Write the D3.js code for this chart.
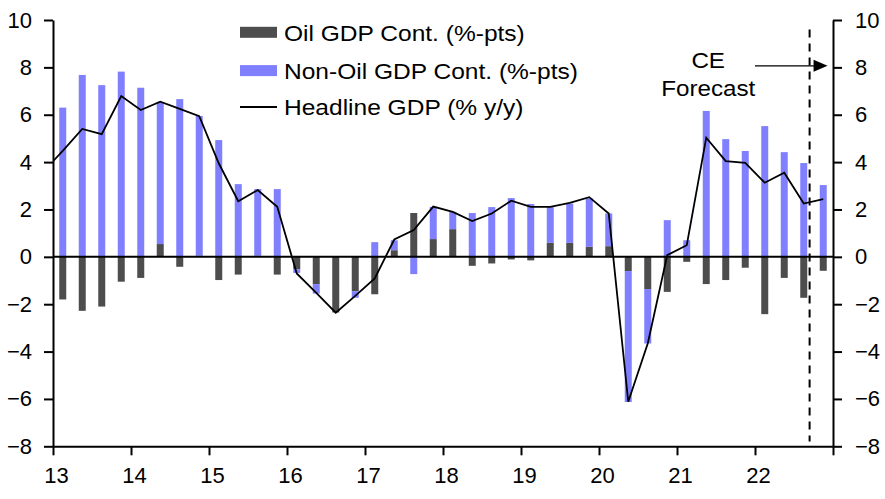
<!DOCTYPE html>
<html><head><meta charset="utf-8">
<script src="https://cdn.jsdelivr.net/npm/d3@7"></script>
<style>
body{margin:0;background:#fff}
svg{display:block}
text{font-family:Arial,"Liberation Sans",sans-serif;fill:#000}
</style>
</head><body>
<svg id="chart" width="885" height="499"></svg>
<script>
// ---------------- DATA ----------------
const startYear = 2013;
const quarterLabels = d3.range(40).map(i => `${startYear + Math.floor(i / 4)}Q${(i % 4) + 1}`);

const oilGDP = [
  -1.80, -2.28, -2.10, -1.05,
  -0.89,  0.54, -0.42,  0.05,
  -0.98, -0.75,  0.05, -0.75,
  -0.52, -1.15, -2.35, -1.45,
  -1.58,  0.28,  1.85,  0.75,
   1.17, -0.38, -0.28, -0.11,
  -0.15,  0.59,  0.59,  0.42,
   0.45, -0.60, -1.36, -1.48,
  -0.21, -1.15, -0.98, -0.46,
  -2.42, -0.89, -1.73, -0.59
];
const nonOilGDP = [
   6.30,  7.68,  7.25,  7.82,
   7.14,  6.00,  6.66,  5.90,
   4.93,  3.07,  2.81,  2.86,
  -0.16, -0.40,  0.00, -0.28,
   0.62,  0.42, -0.73,  1.36,
   0.73,  1.85,  2.10,  2.48,
   2.23,  1.51,  1.66,  2.05,
   1.38, -5.53, -2.30,  1.55,
   0.70,  6.16,  4.97,  4.47,
   5.52,  4.42,  3.96,  3.03
];
// Headline GDP (% y/y), starting 2012Q4 (first point is clipped by the axis)
const headlineStart = 2012.75;
const headlineGDP = [
   3.60,
   4.47,  5.40,  5.18,  6.79,
   6.20,  6.55,  6.25,  5.94,
   3.95,  2.35,  2.82,  2.11,
  -0.70, -1.52, -2.36, -1.65,
  -0.91,  0.73,  1.13,  2.12,
   1.90,  1.51,  1.83,  2.37,
   2.11,  2.11,  2.28,  2.52,
   1.83, -6.12, -3.66,  0.07,
   0.49,  5.03,  4.04,  3.97,
   3.13,  3.55,  2.25,  2.44
];
const yTicks = [-8, -6, -4, -2, 0, 2, 4, 6, 8, 10];
const xTickYears = [2013, 2014, 2015, 2016, 2017, 2018, 2019, 2020, 2021, 2022, 2023];
const xTickLabels = ["13", "14", "15", "16", "17", "18", "19", "20", "21", "22", ""];
const legendLabels = ["Oil GDP Cont. (%-pts)", "Non-Oil GDP Cont. (%-pts)", "Headline GDP (% y/y)"];
const forecastStart = 2022.7;
const arrowFrom = 2022.0, arrowTo = 2022.93, arrowValue = 8;
const annotationLines = ["CE", "Forecast"];

// ---------------- LAYOUT ----------------
const colors = { oil: "#4d4d4d", nonOil: "#8080ff", line: "#000" };
const plot = { left: 53, right: 833, top: 20, bottom: 446.3 };
const svg = d3.select("#chart");

const x = d3.scaleLinear().domain([2013, 2023]).range([plot.left, plot.right]);
const y = d3.scaleLinear().domain([-8, 10]).range([plot.bottom, plot.top]);

const rows = quarterLabels.map((q, i) => ({
  q, t: startYear + (i + 0.5) / 4, oil: oilGDP[i], nonOil: nonOilGDP[i]
}));
const stack = d3.stack().keys(["oil", "nonOil"]).offset(d3.stackOffsetDiverging);
const series = stack(rows);

svg.append("defs").append("clipPath").attr("id", "clip")
  .append("rect").attr("x", plot.left).attr("y", plot.top)
  .attr("width", plot.right - plot.left).attr("height", plot.bottom - plot.top);

const barW = 7;
svg.append("g").selectAll("g").data(series).join("g")
  .attr("fill", d => colors[d.key])
  .selectAll("rect").data(d => d).join("rect")
  .attr("x", d => x(d.data.t) - barW / 2)
  .attr("width", barW)
  .attr("y", d => y(Math.max(d[0], d[1])))
  .attr("height", d => Math.abs(y(d[0]) - y(d[1])));

// zero line
svg.append("line")
  .attr("x1", plot.left).attr("x2", plot.right)
  .attr("y1", y(0)).attr("y2", y(0))
  .attr("stroke", "#000").attr("stroke-width", 2);

// headline line
const linePts = headlineGDP.map((v, i) => ({ t: headlineStart + (i + 0.5) / 4, v }));
svg.append("path").datum(linePts)
  .attr("clip-path", "url(#clip)")
  .attr("fill", "none").attr("stroke", colors.line).attr("stroke-width", 1.8)
  .attr("stroke-linejoin", "miter")
  .attr("d", d3.line().x(d => x(d.t)).y(d => y(d.v)));

// axes
const fontTick = 22;
const left = svg.append("g").attr("transform", `translate(${plot.left},0)`)
  .call(d3.axisLeft(y).tickValues(yTicks).tickSize(9).tickSizeOuter(0).tickPadding(12));
const right = svg.append("g").attr("transform", `translate(${plot.right},0)`)
  .call(d3.axisRight(y).tickValues(yTicks).tickSize(9).tickSizeOuter(0).tickPadding(13));
const bottom = svg.append("g").attr("transform", `translate(0,${plot.bottom})`)
  .call(d3.axisBottom(x).tickValues(xTickYears).tickSize(9).tickSizeOuter(0).tickPadding(12)
    .tickFormat((d, i) => xTickLabels[i]));
[left, right, bottom].forEach(g => {
  g.select(".domain").attr("stroke", "#000").attr("stroke-width", 2);
  g.selectAll(".tick line").attr("stroke", "#000").attr("stroke-width", 2);
  g.selectAll(".tick text").attr("font-size", fontTick).attr("fill", "#000")
    .attr("font-family", 'Arial,"Liberation Sans",sans-serif');
});
bottom.selectAll(".tick text").attr("dx", 3);

// forecast dashed line
svg.append("line")
  .attr("x1", x(forecastStart)).attr("x2", x(forecastStart))
  .attr("y1", y(9.6)).attr("y2", y(-7.8))
  .attr("stroke", "#000").attr("stroke-width", 2).attr("stroke-dasharray", "8,6");

// arrow
const ay = y(arrowValue) - 1.5;
const tipX = x(arrowTo);
svg.append("line")
  .attr("x1", x(arrowFrom)).attr("x2", tipX - 12)
  .attr("y1", ay).attr("y2", ay)
  .attr("stroke", "#000").attr("stroke-width", 1.4);
svg.append("path")
  .attr("d", `M${tipX},${ay} L${tipX - 14},${ay - 6} L${tipX - 14},${ay + 6} Z`)
  .attr("fill", "#000");

// annotation text
const stretch = 1.1;
function stretchedText(xp, yp, str, size, anchor) {
  svg.append("g").attr("transform", `translate(${xp},${yp}) scale(${stretch},1)`)
    .append("text").attr("text-anchor", anchor).attr("font-size", size).text(str);
}
stretchedText(x(2021.4), 68, annotationLines[0], 22, "middle");
stretchedText(x(2021.4), 96, annotationLines[1], 22, "middle");

// legend
const lgX = 240, lgW = 37, lgRow = 38.3, lgY0 = 32.3;
legendLabels.forEach((lab, i) => {
  const cy = lgY0 + i * lgRow - (i === 2 ? 2 : 0);
  if (i < 2) {
    svg.append("rect").attr("x", lgX).attr("y", cy - 5.5).attr("width", lgW).attr("height", 11)
      .attr("fill", i === 0 ? colors.oil : colors.nonOil);
  } else {
    svg.append("line").attr("x1", lgX).attr("x2", lgX + lgW).attr("y1", cy).attr("y2", cy)
      .attr("stroke", "#000").attr("stroke-width", 2);
  }
  stretchedText(284, cy + 8.3, lab, 22.3, "start");
});
</script>
</body></html>
